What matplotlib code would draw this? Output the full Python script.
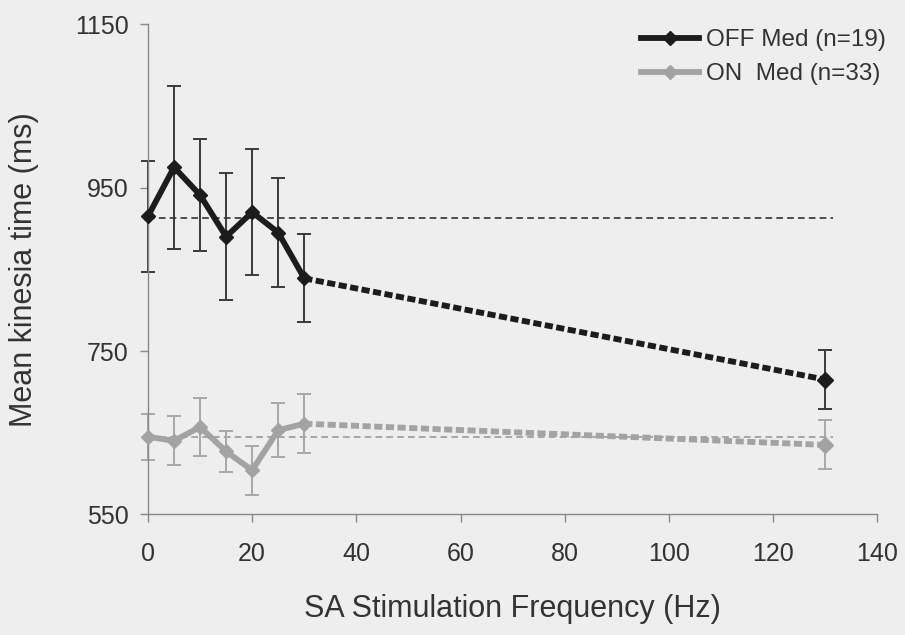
import matplotlib
matplotlib.use("Agg")
import matplotlib.pyplot as plt
from matplotlib.lines import Line2D

plt.rcParams['font.family'] = ['Liberation Sans', 'DejaVu Sans']

freq = [0, 5, 10, 15, 20, 25, 30, 130]
off_mean = [915, 975, 941, 890, 920, 895, 839, 715]
off_err = [68, 100, 69, 78, 77, 67, 54, 36]
on_mean = [645, 640, 657, 627, 604, 653, 661, 635]
on_err = [28, 30, 35, 25, 30, 33, 36, 30]
off_baseline = 913
on_baseline = 645
baseline_x = [0, 131.5]
labels = ["OFF Med (n=19)", "ON  Med (n=33)"]
xticks = [0, 20, 40, 60, 80, 100, 120, 140]
yticks = [550, 750, 950, 1150]

bg = '#eeeeee'
txt = '#333333'
off_c = '#1c1c1c'
on_c = '#a3a3a3'

fig = plt.figure(figsize=(9.05, 6.35), dpi=100, facecolor=bg)
ax = fig.add_axes([0.1635, 0.19, 0.806, 0.7717], facecolor=bg)

# baselines
ax.plot(baseline_x, [off_baseline] * 2, color='#333333', lw=1.2, ls=(0, (4, 2.5)), zorder=1)
ax.plot(baseline_x, [on_baseline] * 2, color='#9a9a9a', lw=1.2, ls=(0, (4, 2.5)), zorder=1)

# error bars
eb1 = ax.errorbar(freq, off_mean, yerr=off_err, fmt='none', ecolor='#3a3a3a', elinewidth=1.4,
                  capsize=5, capthick=1.4, zorder=2)
eb2 = ax.errorbar(freq, on_mean, yerr=on_err, fmt='none', ecolor='#a8a8a8', elinewidth=1.4,
                  capsize=5, capthick=1.4, zorder=2)
for eb in (eb1, eb2):
    for art in eb.lines[1]:
        art.set_clip_on(False)
    for art in eb.lines[2]:
        art.set_clip_on(False)

# solid segments (0-30 Hz)
ax.plot(freq[:7], off_mean[:7], color=off_c, lw=4.2, marker='D', ms=7.5, zorder=4,
        solid_joinstyle='round', clip_on=False)
ax.plot(freq[:7], on_mean[:7], color=on_c, lw=4.2, marker='D', ms=7.5, zorder=3,
        solid_joinstyle='round', clip_on=False)
# dotted segments (30 -> 130 Hz)
ax.plot(freq[6:], off_mean[6:], color=off_c, lw=4.2, ls=(0, (1.4, 0.6)), zorder=4)
ax.plot(freq[6:], on_mean[6:], color=on_c, lw=4.2, ls=(0, (1.4, 0.6)), zorder=3)
ax.plot(freq[7:], off_mean[7:], color=off_c, marker='D', ms=8.5, ls='none', zorder=5)
ax.plot(freq[7:], on_mean[7:], color=on_c, marker='D', ms=8.5, ls='none', zorder=5)

ax.set_xlim(0, 140)
ax.set_ylim(550, 1150)
ax.set_xticks(xticks)
ax.set_yticks(yticks)
ax.tick_params(axis='both', colors='#888888', labelcolor=txt, labelsize=18, length=6, width=1)
ax.tick_params(axis='x', pad=14)
ax.tick_params(axis='y', pad=8)
for s in ['top', 'right']:
    ax.spines[s].set_visible(False)
for s in ['left', 'bottom']:
    ax.spines[s].set_color('#888888')
    ax.spines[s].set_linewidth(1)

ax.set_xlabel("SA Stimulation Frequency (Hz)", fontsize=22, color=txt, labelpad=20)
ax.set_ylabel("Mean kinesia time (ms)", fontsize=22, color=txt, labelpad=26)

handles = [Line2D([], [], color=off_c, lw=4.2, marker='D', ms=7),
           Line2D([], [], color=on_c, lw=4.2, marker='D', ms=7)]
leg = ax.legend(handles, labels, loc='upper right', bbox_to_anchor=(1.042, 1.035), frameon=False,
                fontsize=17.5, handlelength=2.4, handletextpad=0.3, labelspacing=0.5)
for t in leg.get_texts():
    t.set_color(txt)

fig.savefig("out.png", dpi=100, facecolor=bg)
